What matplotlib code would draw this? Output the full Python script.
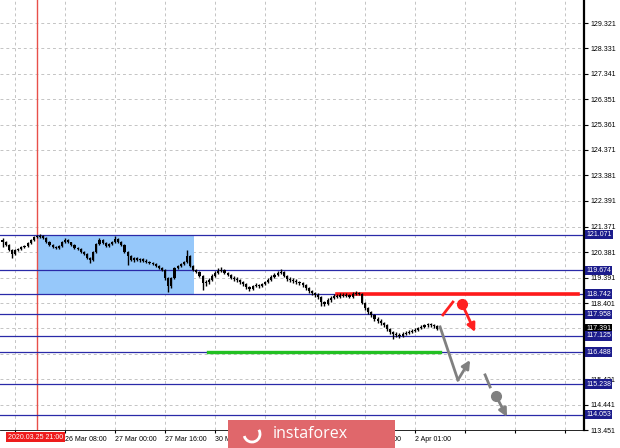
import matplotlib
matplotlib.use('Agg')
import matplotlib.pyplot as plt
import matplotlib.transforms as mtransforms
from matplotlib.patches import Rectangle, Arc

# hourly bars (price)
first_open = 120.86
closes = [120.78, 120.67, 120.47, 120.32, 120.47, 120.51, 120.59, 120.63, 120.74, 120.86,
          120.98, 120.98, 121.02, 120.94, 120.78, 120.67, 120.59, 120.55, 120.63, 120.78,
          120.86, 120.78, 120.67, 120.55, 120.51, 120.39, 120.32, 120.16, 120.08, 120.39,
          120.71, 120.86, 120.74, 120.63, 120.71, 120.78, 120.90, 120.78, 120.67, 120.39,
          120.24, 120.08, 120.16, 120.08, 120.12, 120.04, 120.00, 119.96, 119.93, 119.85,
          119.77, 119.69, 119.38, 119.07, 119.38, 119.77, 119.85, 119.93, 120.00, 120.24,
          119.85, 119.69, 119.61, 119.46, 119.18, 119.22, 119.30, 119.46, 119.57, 119.65,
          119.69, 119.57, 119.50, 119.38, 119.34, 119.30, 119.22, 119.15, 119.03, 118.95,
          119.07, 119.11, 119.07, 119.15, 119.22, 119.30, 119.42, 119.50, 119.57, 119.61,
          119.46, 119.34, 119.30, 119.26, 119.22, 119.18, 119.11, 118.99, 118.87, 118.80,
          118.72, 118.64, 118.44, 118.37, 118.52, 118.60, 118.68, 118.64, 118.72, 118.68,
          118.72, 118.64, 118.76, 118.80, 118.76, 118.41, 118.21, 118.05, 117.94, 117.78,
          117.70, 117.63, 117.55, 117.39, 117.27, 117.20, 117.16, 117.12, 117.20, 117.24,
          117.27, 117.31, 117.35, 117.43, 117.47, 117.55, 117.59, 117.55, 117.51, 117.39]
highs = [120.92, 120.82, 120.70, 120.50, 120.52, 120.56, 120.63, 120.68, 120.78, 120.90,
         121.02, 121.06, 121.08, 121.04, 120.96, 120.82, 120.70, 120.63, 120.67, 120.82,
         120.94, 120.90, 120.80, 120.70, 120.60, 120.55, 120.44, 120.36, 120.20, 120.42,
         120.74, 120.94, 120.90, 120.78, 120.75, 120.84, 121.00, 120.94, 120.82, 120.70,
         120.44, 120.28, 120.20, 120.20, 120.16, 120.16, 120.10, 120.06, 120.00, 119.98,
         119.90, 119.82, 119.72, 119.42, 119.42, 119.82, 119.90, 119.98, 120.06, 120.47,
         120.28, 119.90, 119.74, 119.66, 119.50, 119.30, 119.36, 119.52, 119.64, 119.76,
         119.80, 119.74, 119.62, 119.54, 119.44, 119.40, 119.34, 119.28, 119.18, 119.06,
         119.12, 119.18, 119.16, 119.20, 119.28, 119.36, 119.48, 119.58, 119.66, 119.72,
         119.66, 119.50, 119.40, 119.36, 119.32, 119.28, 119.22, 119.16, 119.04, 118.92,
         118.84, 118.78, 118.68, 118.50, 118.58, 118.66, 118.74, 118.74, 118.78, 118.78,
         118.80, 118.76, 118.82, 118.86, 118.84, 118.80, 118.46, 118.26, 118.10, 117.98,
         117.84, 117.76, 117.68, 117.60, 117.44, 117.32, 117.26, 117.22, 117.26, 117.30,
         117.34, 117.38, 117.42, 117.48, 117.54, 117.60, 117.64, 117.64, 117.60, 117.54]
lows = [120.60, 120.62, 120.42, 120.16, 120.28, 120.44, 120.48, 120.55, 120.60, 120.72,
        120.84, 120.92, 120.94, 120.90, 120.74, 120.62, 120.55, 120.50, 120.52, 120.60,
        120.74, 120.74, 120.62, 120.51, 120.46, 120.35, 120.27, 120.10, 119.98, 120.05,
        120.36, 120.68, 120.70, 120.59, 120.58, 120.66, 120.74, 120.74, 120.62, 120.34,
        119.90, 120.04, 120.02, 120.04, 120.02, 120.00, 119.96, 119.92, 119.88, 119.80,
        119.72, 119.64, 119.30, 118.83, 119.00, 119.34, 119.72, 119.80, 119.88, 119.96,
        119.80, 119.64, 119.56, 119.40, 118.91, 119.06, 119.16, 119.26, 119.42, 119.54,
        119.60, 119.52, 119.44, 119.32, 119.28, 119.24, 119.16, 119.08, 118.96, 118.88,
        118.92, 119.02, 119.00, 119.04, 119.10, 119.18, 119.26, 119.38, 119.46, 119.52,
        119.40, 119.28, 119.24, 119.20, 119.16, 119.12, 119.04, 118.92, 118.80, 118.72,
        118.64, 118.56, 118.30, 118.30, 118.34, 118.46, 118.56, 118.58, 118.60, 118.62,
        118.62, 118.58, 118.60, 118.70, 118.70, 118.36, 118.14, 117.98, 117.86, 117.70,
        117.62, 117.56, 117.48, 117.30, 117.18, 116.98, 117.06, 117.04, 117.08, 117.14,
        117.18, 117.22, 117.26, 117.30, 117.38, 117.42, 117.48, 117.48, 117.44, 117.36]

# horizontal levels and right-axis labels (labels hidden by the boxes are left blank)
levels = [121.071, 119.674, 118.742, 117.958, 117.125, 116.488, 115.238, 114.053]
bid = 117.391
price_ticks = [129.321, 128.331, 127.341, 126.351, 125.361, 124.371, 123.381, 122.391,
               121.371, 120.381, 119.391, 118.401, 117.411, 116.421, 115.431, 114.441, 113.451]
price_tick_labels = ['129.321', '128.331', '127.341', '126.351', '125.361', '124.371',
                     '123.381', '122.391', '121.371', '120.381', '119.391', '118.401',
                     '', '', '115.431', '114.441', '113.451']

# time axis (bar index); labels under the watermark are left out
time_ticks = [4, 20, 36, 52, 68, 84, 100, 116, 132, 148, 164, 180]
time_labels = ['', '26 Mar 08:00', '27 Mar 00:00', '27 Mar 16:00', '30 Mar 09:00',
               '', '', '1 Apr 09:00', '2 Apr 01:00', '', '', '']
marker_bar = 11
marker_label = '2020.03.25 21:00'

# zone and drawn levels
zone_x = (11, 61.3)
zone_y = (118.742, 121.071)
red_level = 118.742
red_level_x = (107, 184)
green_level = 116.488
green_level_x = (65.7, 140)

# forecast sketch
red_stroke_x = [140.9, 144.1]
red_stroke_y = [117.94, 118.44]
red_dot = (147.0, 118.37)
red_arrow_end = (151.2, 117.27)
gray_path_x = [140.0, 145.7]
gray_path_y = [117.47, 115.40]
gray_arrow_end = (149.6, 116.18)
gray_dash_x = [154.4, 156.0]
gray_dash_y = [115.60, 115.13]
gray_dot = (157.9, 114.78)
gray_arrow2_end = (161.4, 113.96)

opens = [first_open] + closes[:-1]
xs = list(range(len(closes)))

fig = plt.figure(figsize=(6.2, 4.48), dpi=100)
ax = fig.add_axes([0, 18 / 448, 584 / 620, 430 / 448])
ax.set_xlim(-0.83, 186.05)
ax.set_ylim(113.454, 130.218)

ax.set_yticks(price_ticks)
ax.set_yticklabels(price_tick_labels)
ax.set_xticks(time_ticks)
ax.set_xticklabels(time_labels)
for lab in ax.get_xticklabels():
    lab.set_horizontalalignment('left')
ax.yaxis.tick_right()
ax.tick_params(axis='y', length=3, width=0.8, pad=2, labelsize=5)
ax.tick_params(axis='x', length=2, width=0.8, pad=2, labelsize=5)
for lab in ax.get_xticklabels() + ax.get_yticklabels():
    lab.set_family('Liberation Sans')

for s in ['left', 'top']:
    ax.spines[s].set_visible(False)
ax.spines['right'].set_linewidth(1.6)
ax.spines['bottom'].set_linewidth(0.6)
ax.grid(True, linestyle=(0, (3, 3)), color='#c4c4c4', linewidth=0.7)
ax.set_axisbelow(True)

# zone
ax.add_patch(Rectangle((zone_x[0], zone_y[0]), zone_x[1] - zone_x[0], zone_y[1] - zone_y[0],
                       facecolor='#96c8fa', edgecolor='none', zorder=1))
ax.axvline(marker_bar, color='#e8504a', linewidth=1, zorder=1.5)

# levels
for lv in levels:
    ax.axhline(lv, color='#2a2aa8', linewidth=0.9, zorder=2)
ax.plot(red_level_x, [red_level, red_level], color='#ff1a1a', linewidth=2.6, zorder=2.2)
ax.plot(green_level_x, [green_level, green_level], color='#22c022', linewidth=2.4, zorder=2.2)

# bars
bodies = [max(abs(c - o), 0.03) for o, c in zip(opens, closes)]
bottoms = [min(o, c) for o, c in zip(opens, closes)]
ax.vlines(xs, lows, highs, color='black', linewidth=1.0, zorder=3)
ax.bar(xs, bodies, bottom=bottoms, width=0.7, color='black', zorder=3)

# forecast arrows
ax.plot(red_stroke_x, red_stroke_y, color='#ff2020', linewidth=2, zorder=4)
ax.plot(*red_dot, 'o', color='#ff2020', markersize=7, zorder=4)
ax.annotate('', xy=red_arrow_end, xytext=red_dot,
            arrowprops=dict(arrowstyle='-|>', color='#ff2020', lw=2, mutation_scale=12,
                            shrinkA=0, shrinkB=0), zorder=4)
ax.plot(gray_path_x, gray_path_y, color='#808080', linewidth=2, zorder=4)
ax.annotate('', xy=gray_arrow_end, xytext=(gray_path_x[-1], gray_path_y[-1]),
            arrowprops=dict(arrowstyle='-|>', color='#808080', lw=2, mutation_scale=12,
                            shrinkA=0, shrinkB=0), zorder=4)
ax.plot(gray_dash_x, gray_dash_y, color='#808080', linewidth=2, zorder=4)
ax.plot(*gray_dot, 'o', color='#808080', markersize=7, zorder=4)
ax.annotate('', xy=gray_arrow2_end, xytext=gray_dot,
            arrowprops=dict(arrowstyle='-|>', color='#808080', lw=2, mutation_scale=12,
                            shrinkA=0, shrinkB=0), zorder=4)

# right axis boxes
trans_y = mtransforms.blended_transform_factory(fig.transFigure, ax.transData)
ax.text(586 / 620, bid, f'{bid:.3f}', transform=trans_y, fontsize=5, color='white',
        family='Liberation Sans', va='center', ha='left', clip_on=False, zorder=6,
        bbox=dict(boxstyle='square,pad=0.2', fc='black', ec='none'))
for lv in levels:
    ax.text(586 / 620, lv, f'{lv:.3f}', transform=trans_y, fontsize=5, color='white',
            family='Liberation Sans', va='center', ha='left', clip_on=False, zorder=6,
            bbox=dict(boxstyle='square,pad=0.2', fc='#1c1c8c', ec='none'))

# marker date label
fig.text(8 / 620, 1 - 437 / 448, marker_label, fontsize=5, color='white',
         family='Liberation Sans', va='center', ha='left', zorder=6,
         bbox=dict(boxstyle='square,pad=0.25', fc='#ee1c1c', ec='none'))

# watermark
fig.patches.append(Rectangle((228 / 620, 0), 167 / 620, 28 / 448, transform=fig.transFigure,
                             facecolor='#e0676b', edgecolor='none', zorder=5))
fig.patches.append(Arc((252 / 620, 1 - 434 / 448), 16 / 620, 16 / 448, theta1=200, theta2=40,
                       transform=fig.transFigure, color='white', lw=2, zorder=6))
fig.text(310 / 620, 1 - 434 / 448, 'instaforex', fontsize=11.5, color='white',
         family='Open Sans', va='center', ha='center', zorder=7)

plt.savefig('out.png', dpi=100)
